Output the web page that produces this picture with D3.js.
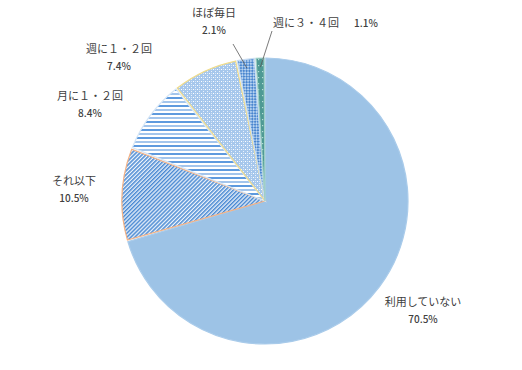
<!DOCTYPE html>
<html>
<head>
<meta charset="utf-8">
<script src="https://cdn.jsdelivr.net/npm/d3@7"></script>
<style>
  body { margin: 0; background: #fff; }
  svg { display: block; }
  text { font-family: "Noto Sans CJK JP", "Noto Sans", sans-serif; fill: #404040; }
</style>
</head>
<body>
<svg></svg>
<script>
const categories = ["利用していない", "それ以下", "月に１・２回", "週に１・２回", "ほぼ毎日", "週に３・４回"];
const values = [70.5, 10.5, 8.4, 7.4, 2.1, 1.1];
const pctLabels = ["70.5%", "10.5%", "8.4%", "7.4%", "2.1%", "1.1%"];

const WIDTH = 522, HEIGHT = 370;
const cx = 265, cy = 201, R = 144;

const svg = d3.select("svg").attr("width", WIDTH).attr("height", HEIGHT);
const defs = svg.append("defs");

// patterns
const p1 = defs.append("pattern").attr("id", "pDiag").attr("patternUnits", "userSpaceOnUse")
  .attr("width", 2.8).attr("height", 2.8).attr("patternTransform", "rotate(45)");
p1.append("rect").attr("width", 2.8).attr("height", 2.8).attr("fill", "#eef4fb");
p1.append("rect").attr("width", 1.5).attr("height", 2.8).attr("fill", "#4a8ad3");

const p2 = defs.append("pattern").attr("id", "pHorz").attr("patternUnits", "userSpaceOnUse")
  .attr("width", 8).attr("height", 8);
p2.append("rect").attr("width", 8).attr("height", 8).attr("fill", "#fff");
p2.append("rect").attr("y", 0).attr("width", 8).attr("height", 2).attr("fill", "#5e9ade");
p2.append("rect").attr("y", 4).attr("width", 8).attr("height", 2).attr("fill", "#a3c5ec");

const p3 = defs.append("pattern").attr("id", "pDots").attr("patternUnits", "userSpaceOnUse")
  .attr("width", 4).attr("height", 4);
p3.append("rect").attr("width", 4).attr("height", 4).attr("fill", "#a6c7ec");
p3.append("rect").attr("width", 1).attr("height", 1).attr("fill", "#fff");
p3.append("rect").attr("x", 2).attr("y", 2).attr("width", 1).attr("height", 1).attr("fill", "#eaf2fb");
p3.append("rect").attr("x", 2).attr("y", 0).attr("width", 1).attr("height", 1).attr("fill", "#d4e5f7");

const p4 = defs.append("pattern").attr("id", "pCheck").attr("patternUnits", "userSpaceOnUse")
  .attr("width", 4).attr("height", 4).attr("patternTransform", "rotate(45)");
p4.append("rect").attr("width", 4).attr("height", 4).attr("fill", "#4a86cf");
p4.append("rect").attr("width", 2).attr("height", 2).attr("fill", "#b6d2f0");
p4.append("rect").attr("x", 2).attr("y", 2).attr("width", 2).attr("height", 2).attr("fill", "#b6d2f0");

const p5 = defs.append("pattern").attr("id", "pTeal").attr("patternUnits", "userSpaceOnUse")
  .attr("width", 4).attr("height", 6);
p5.append("rect").attr("width", 4).attr("height", 6).attr("fill", "#4e9a94");
p5.append("rect").attr("x", 1).attr("y", 2).attr("width", 1.2).attr("height", 1.2).attr("fill", "#b8dcd6");

const fills = ["#9dc3e6", "url(#pDiag)", "url(#pHorz)", "url(#pDots)", "url(#pCheck)", "url(#pTeal)"];
const borders = ["#a9cbea", "#f4b183", "#d6e6f6", "#f0dc8c", "#c9ddf2", "#9fcfc6"];

const pie = d3.pie().sort(null).value(d => d);
const arcs = pie(values);
const arc = d3.arc().innerRadius(0).outerRadius(R);

const g = svg.append("g").attr("transform", `translate(${cx},${cy})`);

g.selectAll("path.slice")
  .data(arcs)
  .enter()
  .append("path")
  .attr("class", "slice")
  .attr("d", d3.arc().innerRadius(0).outerRadius(R - 1).padAngle(0.012))
  .attr("fill", (d, i) => fills[i])
  .attr("stroke", (d, i) => borders[i])
  .attr("stroke-width", 1.2);

// label layout (relative to pie centre)
const labelPos = [
  [158, 105], [-191, -16], [-175, -101], [-146, -148], [-51, -184], [0, 0]
];

const labels = svg.append("g").attr("font-size", 11);
categories.forEach((c, i) => {
  if (i === 5) return;
  const [x, y] = labelPos[i];
  labels.append("text")
    .attr("x", cx + x).attr("y", cy + y)
    .attr("text-anchor", "middle")
    .text(c);
  labels.append("text")
    .attr("x", cx + x).attr("y", cy + y + 17)
    .attr("text-anchor", "middle")
    .attr("font-size", 10)
    .attr("font-weight", 500)
    .text(pctLabels[i]);
});
labels.append("text")
  .attr("x", cx + 8).attr("y", cy - 174)
  .attr("text-anchor", "start")
  .text(categories[5]);
labels.append("text")
  .attr("x", cx + 89).attr("y", cy - 174)
  .attr("font-size", 10)
  .attr("font-weight", 500)
  .text(pctLabels[5]);

// leader lines to small slices
const leader = (i, from) => {
  const a = (arcs[i].startAngle + arcs[i].endAngle) / 2;
  const r = R - 10;
  svg.append("line")
    .attr("x1", cx + from[0]).attr("y1", cy + from[1])
    .attr("x2", cx + Math.sin(a) * r).attr("y2", cy - Math.cos(a) * r)
    .attr("stroke", "#595959").attr("stroke-width", 0.8);
};
leader(4, [-32, -157]);
leader(5, [7, -170]);
</script>
</body>
</html>
